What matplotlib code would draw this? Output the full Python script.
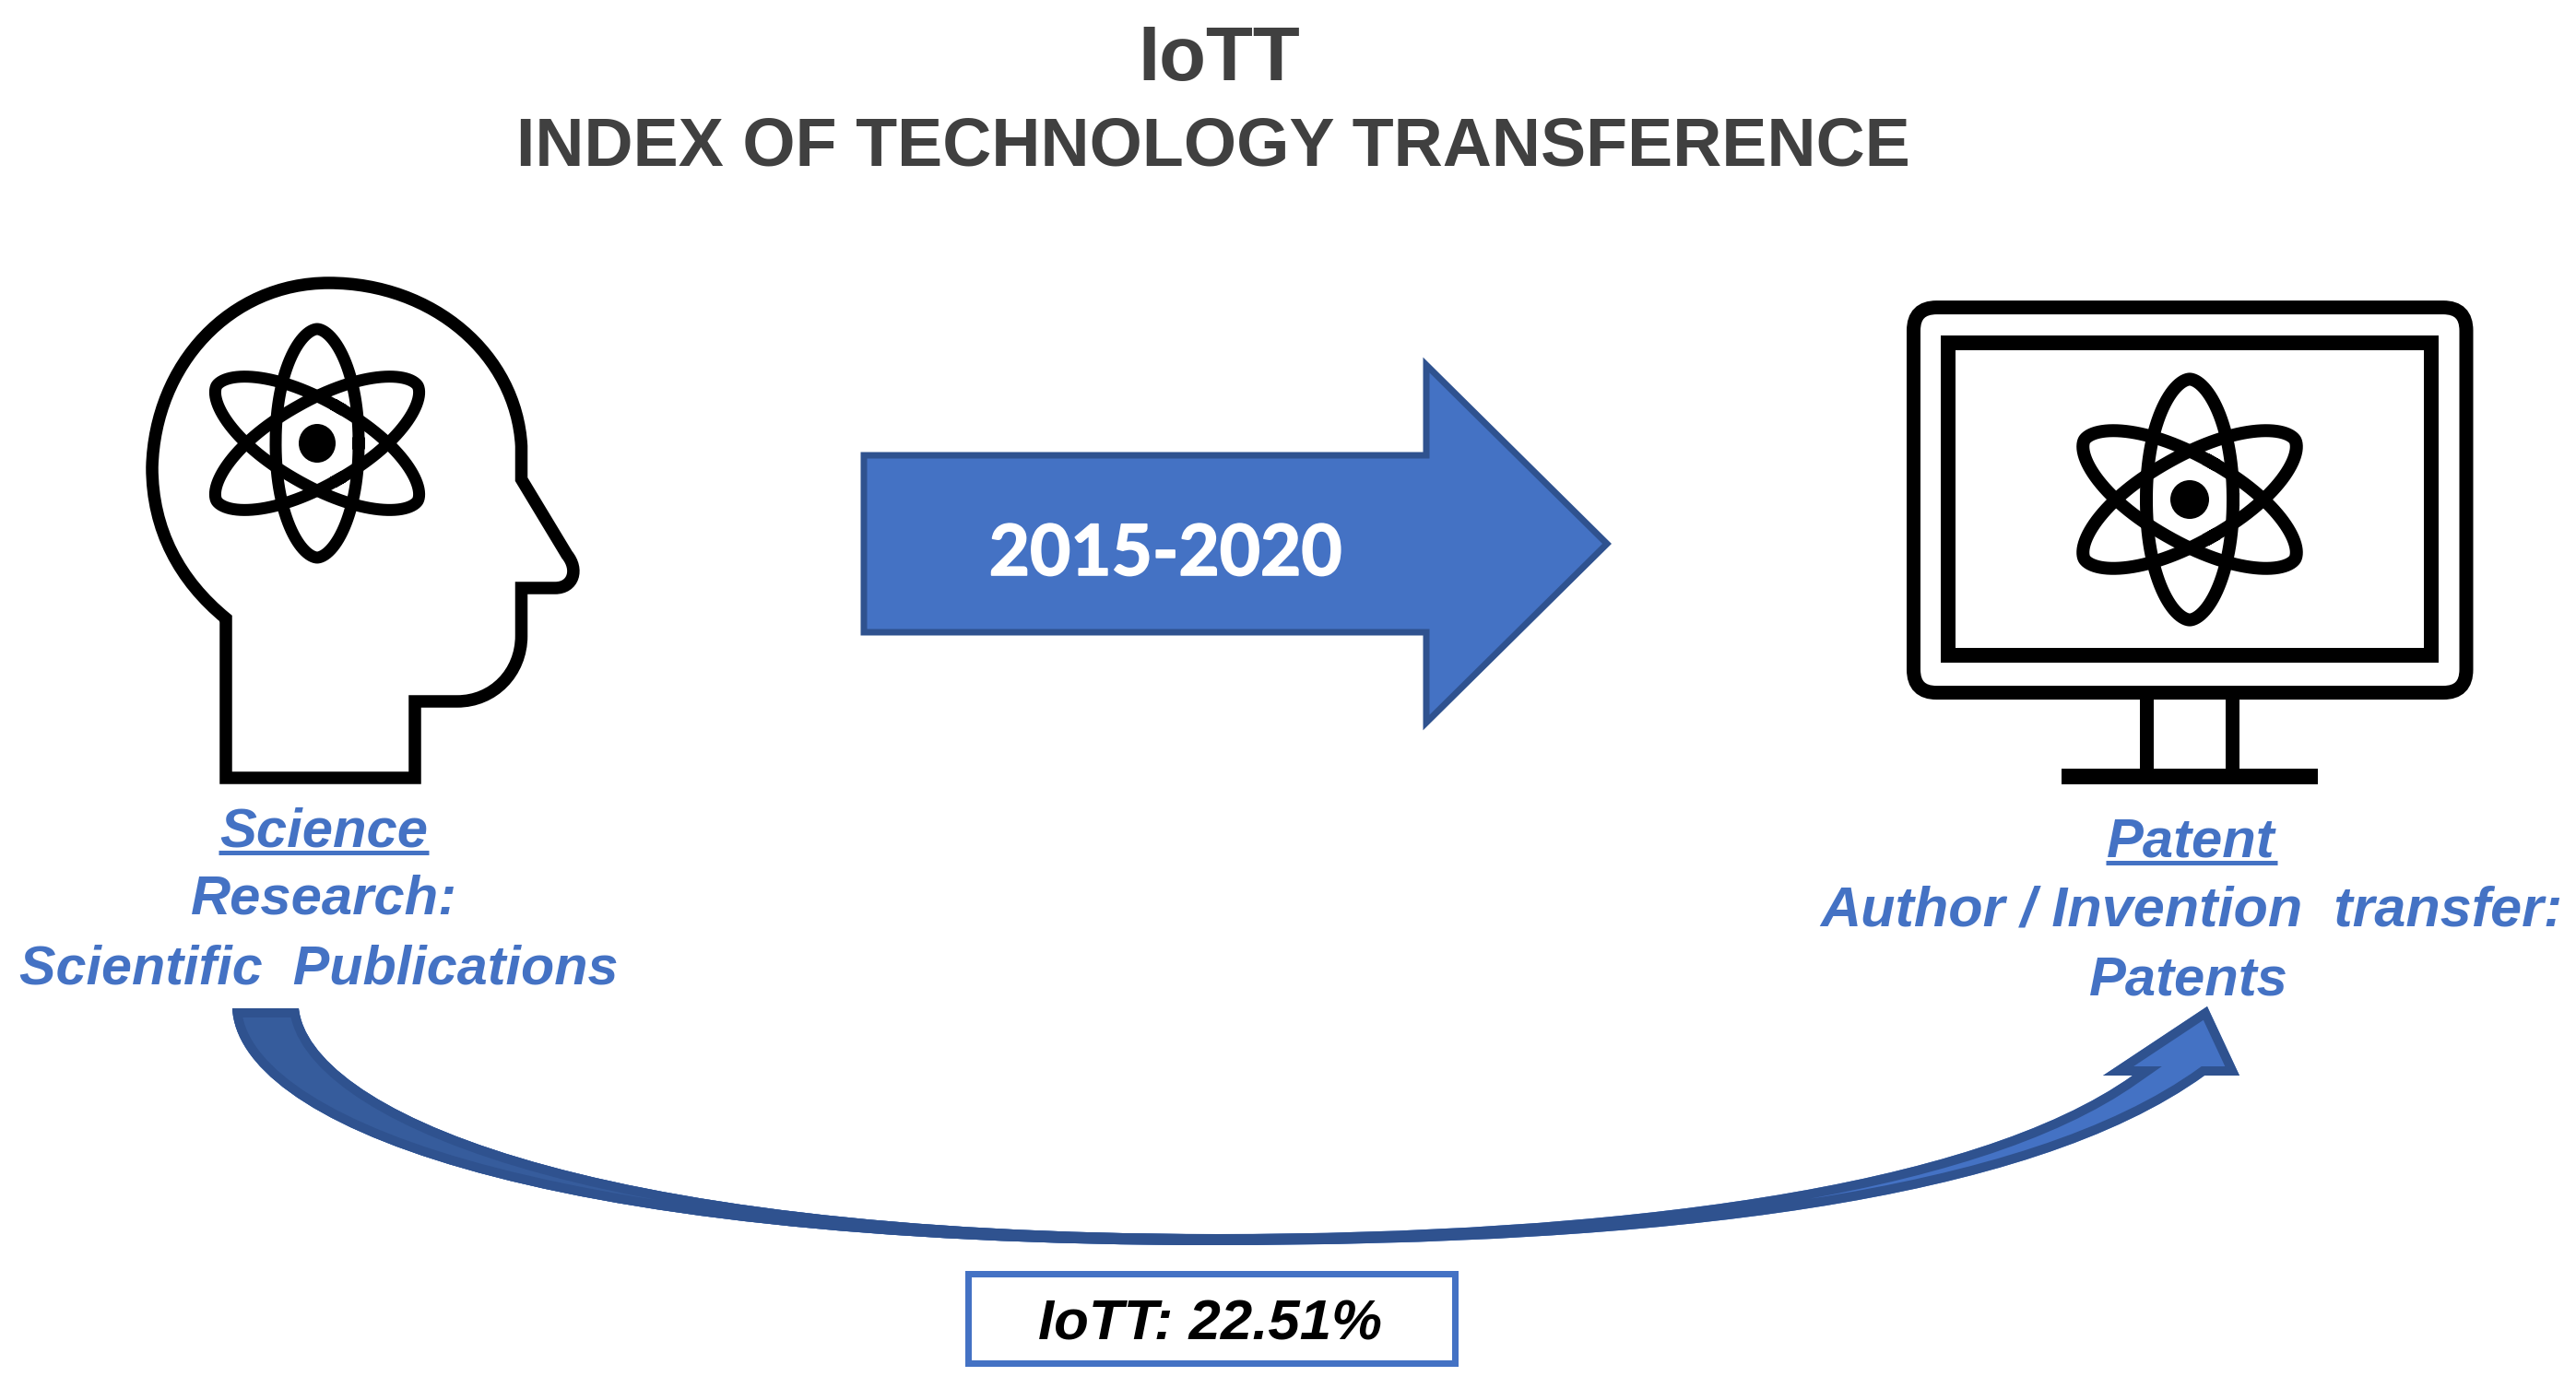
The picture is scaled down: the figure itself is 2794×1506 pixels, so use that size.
import numpy as np
import matplotlib
matplotlib.use("Agg")
import matplotlib.pyplot as plt
import matplotlib.patheffects as pe
from matplotlib.patches import PathPatch, Rectangle, FancyBboxPatch, Polygon, Ellipse
from matplotlib.path import Path

W, H = 2794, 1506
BLUE = "#4472C4"
EDGE = "#2F528F"
DARK = "#365C9C"
GREY = "#404040"
PX = 72 / 100  # one image pixel in points

title_main = "IoTT"
title_sub = "INDEX OF TECHNOLOGY TRANSFERENCE"
period_label = "2015-2020"
left_lines = ["Science", "Research:", "Scientific  Publications"]
right_lines = ["Patent", "Author / Invention  transfer:", "Patents"]
index_label = "IoTT: 22.51%"

fig = plt.figure(figsize=(W / 100, H / 100), dpi=100, facecolor="white")
ax = fig.add_axes([0, 0, 1, 1])
ax.set_xlim(0, W)
ax.set_ylim(H, 0)
ax.axis("off")


def atom(cx, cy, a, b, sx, sy, r_x, r_y, lw):
    t = np.linspace(0, 2 * np.pi, 240)
    c, s = np.cos(t), np.sin(t)
    x0 = b * np.sign(c) * np.abs(c) ** 1.15
    y0 = a * np.sign(s) * np.abs(s) ** 0.95
    ax.plot(cx + x0, cy + y0, color="black", lw=lw * PX)
    for ang in (np.pi / 3, -np.pi / 3):
        x = x0 * np.cos(ang) - y0 * np.sin(ang)
        y = x0 * np.sin(ang) + y0 * np.cos(ang)
        ax.plot(cx + sx * x, cy + sy * y, color="black", lw=lw * PX)
    ax.add_patch(Ellipse((cx, cy), 2 * r_x, 2 * r_y, color="black", lw=0))


# head icon
M, L, C, Z = Path.MOVETO, Path.LINETO, Path.CURVE4, Path.CLOSEPOLY
head = [
    (M, (245, 844)), (L, (450, 844)), (L, (450, 761)), (L, (496, 761)),
    (C, (535, 761)), (C, (565.5, 730)), (C, (565.5, 690)),
    (L, (565.5, 638)), (L, (602, 638)),
    (C, (622, 638)), (C, (628, 618)), (C, (615, 602)),
    (L, (565.5, 520)), (L, (565.5, 484)),
    (C, (560, 385)), (C, (470, 307)), (C, (356.5, 307)),
    (C, (250, 307)), (C, (168, 395)), (C, (165, 507)),
    (C, (165, 575)), (C, (195, 630)), (C, (245, 671)),
    (L, (245, 844)), (Z, (245, 844)),
]
ax.add_patch(PathPatch(Path([p for _, p in head], [c for c, _ in head]),
                       fc="none", ec="black", lw=13.5 * PX, joinstyle="miter"))
atom(344, 481, 124, 45, 1.016, 1.007, 20, 21, 13)

# monitor icon
ax.add_patch(FancyBboxPatch((2075.5 + 25, 333.6 + 25), 599.5 - 50, 418 - 50,
                            boxstyle="round,pad=25,rounding_size=25",
                            fc="none", ec="black", lw=15 * PX))
ax.add_patch(Rectangle((2113, 372), 524, 339, fc="none", ec="black",
                       lw=16 * PX, joinstyle="miter"))
for x in (2328, 2421):
    ax.plot([x, x], [751, 836], color="black", lw=15 * PX, solid_capstyle="butt")
ax.add_patch(Rectangle((2236, 834), 278, 17, fc="black", ec="none"))
atom(2375, 542, 130.6, 47, 1.01, 0.99, 21, 21, 14)

# block arrow
ax.add_patch(Polygon([(937, 494), (1547, 494), (1547, 396), (1743, 590),
                      (1547, 784), (1547, 686), (937, 686)], closed=True,
                     fc=BLUE, ec=EDGE, lw=7 * PX, joinstyle="miter"))

# curved arrow
ribbon_steps = [
    (M, (252, 1094)), (L, (324, 1094)),
    (C, (335, 1200)), (C, (620, 1339)), (C, (1319, 1339)),
    (C, (1750, 1339)), (C, (2140, 1290)), (C, (2313, 1167)),
    (L, (2281, 1167)), (L, (2394, 1092)), (L, (2429, 1167)), (L, (2391, 1167)),
    (C, (2200, 1305)), (C, (1800, 1351)), (C, (1319, 1351)),
    (C, (560, 1351)), (C, (258, 1215)), (C, (252, 1094)),
    (Z, (252, 1094)),
]
ribbon_path = Path([p for _, p in ribbon_steps], [c for c, _ in ribbon_steps])
ribbon = PathPatch(ribbon_path, fc=BLUE, ec="none")
ax.add_patch(ribbon)
dark_part = Rectangle((200, 1080), 1119, 300, fc=DARK, ec="none")
ax.add_patch(dark_part)
dark_part.set_clip_path(ribbon)
stroke = PathPatch(ribbon_path, fc="none", ec=EDGE, lw=20 * PX, joinstyle="miter")
ax.add_patch(stroke)
stroke.set_clip_path(ribbon)

# texts
SANS = "Liberation Sans"
ax.text(1322, 87, title_main, ha="center", va="baseline", color=GREY,
        family=SANS, weight="bold", fontsize=60)
ax.text(1316, 179, title_sub, ha="center", va="baseline", color=GREY,
        family=SANS, weight="bold", fontsize=53)
ax.text(1264, 624, period_label, ha="center", va="baseline", color="white",
        family="Lato", weight="bold", fontsize=55,
        path_effects=[pe.withStroke(linewidth=1.2, foreground="white")])

label_style = dict(ha="center", va="baseline", color=BLUE, family=SANS,
                   weight="bold", style="italic")
for text, x, y, size in zip(left_lines, (351, 351, 346), (918, 991, 1068), (43, 43, 42.7)):
    ax.text(x, y, text, fontsize=size, **label_style)
for text, x, y, size in zip(right_lines, (2376, 2377, 2374), (929, 1004, 1079), (43, 44, 43)):
    ax.text(x, y, text, fontsize=size, **label_style)
ax.plot([237, 465], [925, 925], color=BLUE, lw=5 * PX, solid_capstyle="butt")
ax.plot([2284, 2470], [936, 936], color=BLUE, lw=5 * PX, solid_capstyle="butt")

ax.add_patch(Rectangle((1050, 1382), 528, 97, fc="white", ec=BLUE, lw=7 * PX,
                       joinstyle="miter"))
ax.text(1312, 1454, index_label, ha="center", va="baseline", color="black",
        family=SANS, weight="bold", style="italic", fontsize=44.5)

fig.savefig("out.png", dpi=100, facecolor="white")
